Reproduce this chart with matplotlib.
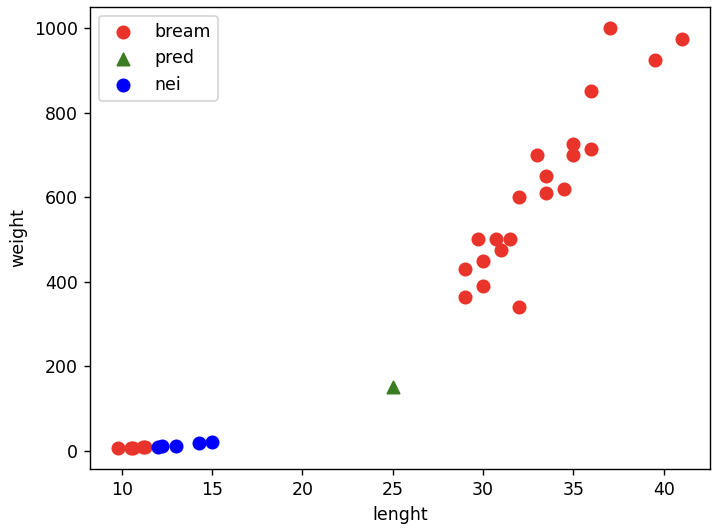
import matplotlib
matplotlib.use("Agg")
import matplotlib.pyplot as plt

bream_length = [9.8, 10.5, 10.6, 11.2, 11.3,
                29.0, 29.0, 29.7, 30.0, 30.0, 30.7, 31.0, 31.5, 32.0, 32.0,
                33.0, 33.5, 33.5, 34.5, 35.0, 35.0, 36.0, 36.0, 37.0, 39.5, 41.0]
bream_weight = [6.7, 7.5, 7.0, 9.8, 8.7,
                430, 363, 500, 450, 390, 500, 475, 500, 600, 340,
                700, 650, 610, 620, 725, 700, 850, 714, 1000, 925, 975]
pred_length = [25]
pred_weight = [150]
nei_length = [12.0, 12.2, 13.0, 14.3, 15.0]
nei_weight = [9.9, 12.2, 12.2, 19.7, 19.9]

dpi = 125
fig = plt.figure(figsize=(719 / dpi, 532 / dpi), dpi=dpi)
ax = fig.add_axes([90 / 719, 1 - 469 / 532, 620 / 719, 462 / 532])
ax.scatter(bream_length, bream_weight, color='#e8342a', s=50, label='bream')
ax.scatter(pred_length, pred_weight, marker='^', color='#3a7d22', s=50, label='pred')
ax.scatter(nei_length, nei_weight, color='blue', s=50, label='nei')
ax.set_xlabel('lenght')
ax.set_ylabel('weight')
ax.legend(loc='upper left')
fig.savefig('out.png', dpi=dpi)
